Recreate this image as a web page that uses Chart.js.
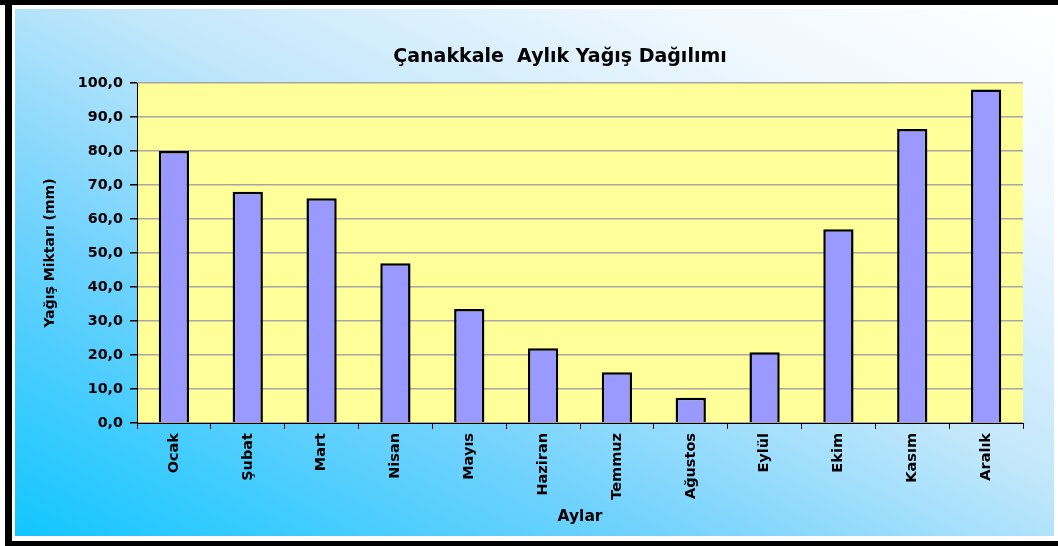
<!DOCTYPE html>
<html>
<head>
<meta charset="utf-8">
<script src="https://cdn.jsdelivr.net/npm/chart.js@4"></script>
<style>
  html, body { margin: 0; padding: 0; background: #fff; overflow: hidden; }
  .bar { position: absolute; background: #000; }
  #bg { position: absolute; left: 15px; top: 9px; width: 1039px; height: 527px;
        background: linear-gradient(to top right, #12c6ff 0%, #6fd2fd 30%, #c2e7fb 55%, #eef7fe 80%, #ffffff 100%); }
  #c { position: absolute; left: 0; top: 0; }
</style>
</head>
<body>
<div class="bar" style="left:0;top:0;width:1058px;height:5px"></div>
<div class="bar" style="left:5px;top:0;width:7px;height:546px"></div>
<div class="bar" style="left:5px;top:541px;width:1053px;height:5px"></div>
<div id="bg"></div>
<canvas id="c" width="1058" height="546"></canvas>
<script>
const months = ["Ocak", "Şubat", "Mart", "Nisan", "Mayıs", "Haziran",
  "Temmuz", "Ağustos", "Eylül", "Ekim", "Kasım", "Aralık"];
const rainfall = [80.0, 68.0, 66.1, 47.0, 33.5, 22.0, 14.9, 7.4, 20.8, 57.0, 86.5, 98.1];
const chartTitle = "Çanakkale  Aylık Yağış Dağılımı";
const yTitle = "Yağış Miktarı (mm)";
const xTitle = "Aylar";

const font = "DejaVu Sans";

// yellow plot area + title drawn by hand
const plotBg = {
  id: "plotBg",
  beforeDraw(chart) {
    const { ctx, chartArea: a } = chart;
    ctx.save();
    ctx.fillStyle = "#ffff99";
    ctx.fillRect(a.left, a.top, a.right - a.left, a.bottom - a.top);
    ctx.restore();
  },
  afterDraw(chart) {
    const ctx = chart.ctx;
    ctx.save();
    ctx.font = "bold 19px '" + font + "'";
    ctx.fillStyle = "#000";
    ctx.textAlign = "center";
    ctx.textBaseline = "alphabetic";
    ctx.fillText(chartTitle, 560, 62);
    ctx.restore();
  }
};

new Chart(document.getElementById("c"), {
  type: "bar",
  data: {
    labels: months,
    datasets: [{
      data: rainfall,
      backgroundColor: "#9999ff",
      borderColor: "#000",
      borderWidth: 2.5,
      categoryPercentage: 1,
      barPercentage: 0.41
    }]
  },
  options: {
    responsive: false,
    animation: false,
    layout: { padding: { top: 83, left: 15, right: 35, bottom: 10 } },
    plugins: { legend: { display: false }, tooltip: { enabled: false } },
    scales: {
      x: {
        afterFit(s) { s.height = 113; },
        grid: { drawOnChartArea: false, drawTicks: true, tickLength: 6, tickColor: "#000" },
        border: { color: "#000", width: 1 },
        ticks: {
          minRotation: 90, maxRotation: 90, padding: 4, color: "#000",
          font: { family: font, size: 14.5, weight: "bold" }
        },
        title: {
          display: true, text: xTitle, color: "#000",
          font: { family: font, size: 15.5, weight: "bold" },
          padding: { top: 0, bottom: 10 }
        }
      },
      y: {
        min: 0, max: 100,
        afterFit(s) { s.width = 122; },
        grid: { color: "#a6a6a6", lineWidth: 1.5, tickLength: 7, tickColor: "#000" },
        border: { color: "#000", width: 1 },
        ticks: {
          stepSize: 10, padding: 7, color: "#000",
          font: { family: font, size: 14.3, weight: "bold" },
          callback: v => v.toFixed(1).replace(".", ",")
        },
        title: {
          display: true, text: yTitle, color: "#000",
          font: { family: font, size: 14, weight: "bold" },
          padding: { top: 27, bottom: 0 }
        }
      }
    }
  },
  plugins: [plotBg]
});
</script>
</body>
</html>
